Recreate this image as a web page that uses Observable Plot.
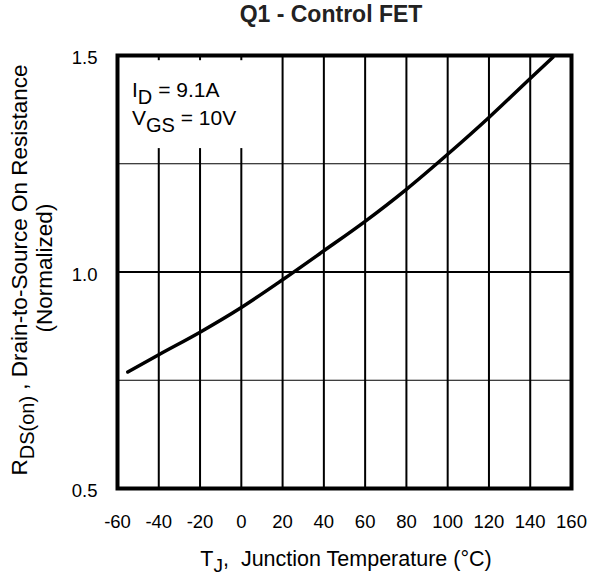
<!DOCTYPE html>
<html>
<head>
<meta charset="utf-8">
<script src="https://cdn.jsdelivr.net/npm/d3@7"></script>
<script src="https://cdn.jsdelivr.net/npm/@observablehq/plot@0.6"></script>
<style>
  html, body { margin: 0; padding: 0; background: #fff; }
  svg { font-family: "Liberation Sans", Arial, Helvetica, sans-serif; }
</style>
</head>
<body>
<div id="chart"></div>
<script>
// Data
const temps = [-55, -40, -20, 0, 20, 40, 60, 80, 100, 120, 140, 151];
const rdsNorm = [0.769, 0.809, 0.861, 0.918, 0.982, 1.049, 1.117, 1.191, 1.272, 1.357, 1.447, 1.496];
const xTicks = [-60, -40, -20, 0, 20, 40, 60, 80, 100, 120, 140, 160];
const yTickLabels = [0.5, 1.0, 1.5];
const yGridThin = [0.75, 1.25];
const yGridThick = [1.0];
// annotation box region (data units) where vertical grid is hidden
const annoBox = [{x1: -60, x2: 10, y1: 1.285, y2: 1.488}];

const data = temps.map((t, i) => ({t, r: rdsNorm[i]}));

const W = 589, H = 575;
const mL = 117, mR = 18, mT = 55, mB = 87;
const ff = '"Liberation Sans", Arial, Helvetica, sans-serif';

const chart = Plot.plot({
  width: W,
  height: H,
  marginLeft: mL,
  marginRight: mR,
  marginTop: mT,
  marginBottom: mB,
  style: {fontFamily: ff, fontSize: "18.5px", background: "#fff", color: "#000"},
  x: {domain: [-60, 160]},
  y: {domain: [0.5, 1.5]},
  marks: [
    Plot.ruleX(xTicks, {stroke: "#000", strokeWidth: 2}),
    Plot.ruleY(yGridThin, {stroke: "#000", strokeWidth: 1}),
    Plot.ruleY(yGridThick, {stroke: "#000", strokeWidth: 2}),
    Plot.rect(annoBox, {x1: "x1", x2: "x2", y1: "y1", y2: "y2", fill: "#fff"}),
    Plot.line(data, {x: "t", y: "r", curve: "monotone-x", stroke: "#000", strokeWidth: 3.5}),
    Plot.frame({stroke: "#000", strokeWidth: 4}),
    Plot.axisX(xTicks, {tickSize: 0, tickPadding: 26, fontSize: 18.5, label: null, tickFormat: d => String(d)}),
    Plot.axisY(yTickLabels, {tickSize: 0, tickPadding: 20, fontSize: 18.5, label: null, tickFormat: d3.format(".1f"), dy: 3})
  ]
});

document.getElementById("chart").appendChild(chart);

const svg = d3.select(chart);

// Title
svg.append("text")
  .attr("x", 331).attr("y", 22)
  .attr("text-anchor", "middle")
  .attr("font-family", ff)
  .attr("font-size", 23)
  .attr("font-weight", "bold")
  .attr("fill", "#222")
  .text("Q1 - Control FET");

// X axis title
const xt = svg.append("text")
  .attr("x", 346).attr("y", 566)
  .attr("text-anchor", "middle")
  .attr("font-family", ff)
  .attr("font-size", 21.5)
  .attr("fill", "#000");
xt.append("tspan").text("T");
xt.append("tspan").attr("dy", 6).attr("font-size", 19).text("J");
xt.append("tspan").attr("dy", -6).text(",  Junction Temperature (°C)");

// Y axis title (two lines, rotated)
const yt = svg.append("text")
  .attr("transform", "translate(27,270) rotate(-90)")
  .attr("text-anchor", "middle")
  .attr("font-family", ff)
  .attr("font-size", 22.5)
  .attr("fill", "#000");
yt.append("tspan").text("R");
yt.append("tspan").attr("dy", 7).attr("font-size", 20).text("DS(on)");
yt.append("tspan").attr("dy", -7).text(" , Drain-to-Source On Resistance");

svg.append("text")
  .attr("transform", "translate(52,268) rotate(-90)")
  .attr("text-anchor", "middle")
  .attr("font-family", ff)
  .attr("font-size", 22.5)
  .attr("fill", "#000")
  .text("(Normalized)");

// Annotation
const a1 = svg.append("text")
  .attr("x", 132).attr("y", 97)
  .attr("text-anchor", "start")
  .attr("font-family", ff)
  .attr("font-size", 21)
  .attr("fill", "#000");
a1.append("tspan").text("I");
a1.append("tspan").attr("dy", 7).attr("font-size", 20).text("D");
a1.append("tspan").attr("dy", -7).text(" = 9.1A");

const a2 = svg.append("text")
  .attr("x", 132).attr("y", 125)
  .attr("text-anchor", "start")
  .attr("font-family", ff)
  .attr("font-size", 21)
  .attr("fill", "#000");
a2.append("tspan").text("V");
a2.append("tspan").attr("dy", 7).attr("font-size", 20).text("GS");
a2.append("tspan").attr("dy", -7).text(" = 10V");
</script>
</body>
</html>
